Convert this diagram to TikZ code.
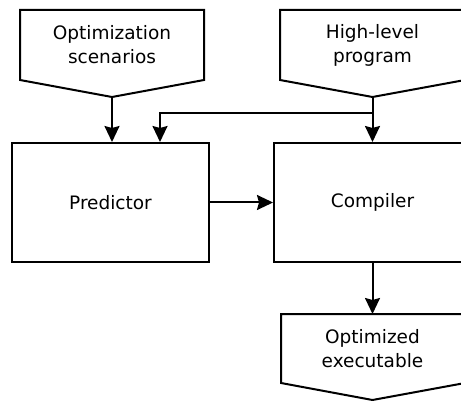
\documentclass[tikz,border=0pt]{standalone}
\usepackage{fontspec}
\setmainfont{DejaVu Sans}
\usetikzlibrary{arrows.meta}
\begin{document}
\begin{tikzpicture}[x=1pt,y=-1pt,
  line width=2pt,
  box/.style={draw, line width=2pt, inner sep=0pt, minimum width=197pt, minimum height=119pt,
              font=\fontsize{18.5}{24}\selectfont},
  lbl/.style={align=center, inner sep=0pt, font=\fontsize{18.5}{24}\selectfont},
  flow/.style={-{Stealth[length=16pt,width=15pt,inset=2pt]}, line width=2pt}]
\clip (0,0) rectangle (461,401);
\useasboundingbox (0,0) rectangle (461,401);

% input documents (pentagon outlines)
\draw (20,10) -- (204,10) -- (204,80) -- (112,97) -- (20,80) -- cycle;
\node[lbl] (opt) at (112,45) {Optimization\\scenarios};
\coordinate (optTip) at (112,97);

\draw (280,10) -- (465,10) -- (465,80) -- (372.5,97) -- (280,80) -- cycle;
\node[lbl] (hl) at (372.5,45) {High-level\\program};
\coordinate (hlTip) at (372.5,97);

% processing blocks
\node[box] (pred) at (110.5,202.5) {Predictor};
\node[box] (comp) at (372.5,202.5) {Compiler};

% output document
\draw (281,314) -- (465,314) -- (465,383) -- (372.5,400) -- (281,383) -- cycle;
\node[lbl] (out) at (372.5,348.5) {Optimized\\executable};
\coordinate (outTop) at (372.5,314);

% connectors
\coordinate (split) at (372.5,113);
\coordinate (fb) at (160,113);
\draw[flow] (optTip) -- (optTip |- pred.north);
\draw[flow] (hlTip) -- (comp.north);
\draw[flow] (split) -- (fb) -- (fb |- pred.north);
\draw[flow] (pred.east) -- (comp.west);
\draw[flow] (comp.south) -- (outTop);
\end{tikzpicture}
\end{document}
